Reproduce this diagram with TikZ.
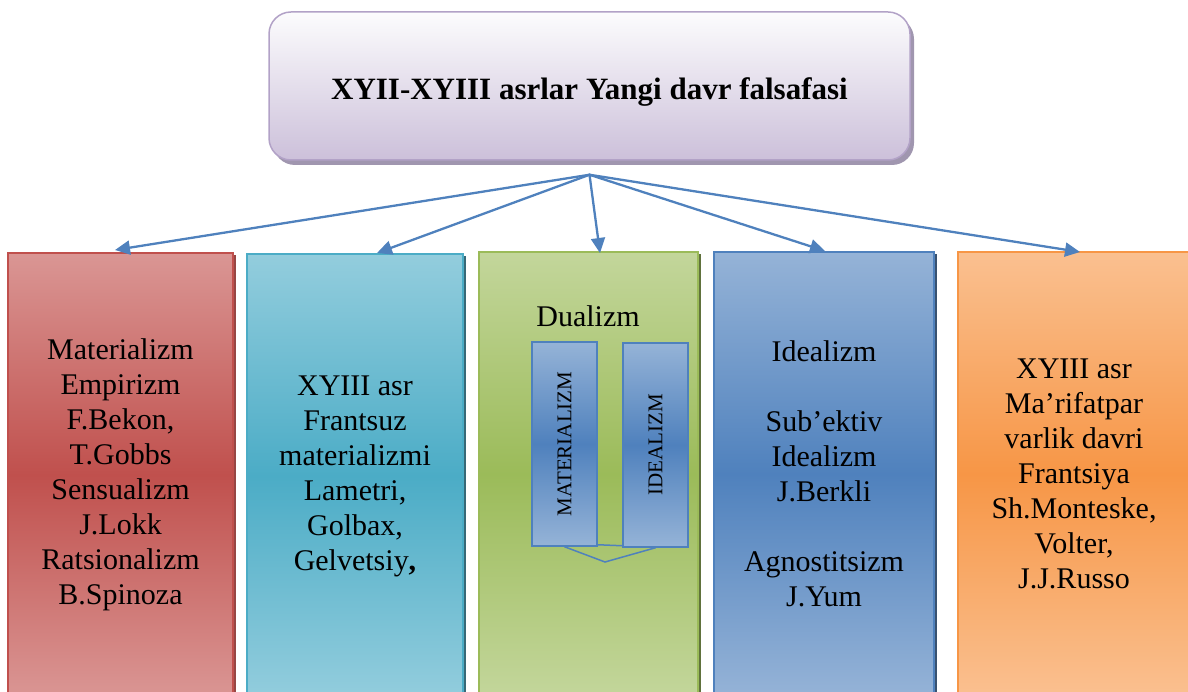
\documentclass[tikz,border=0pt]{standalone}
\usepackage{fontspec,graphicx}
\setmainfont{Liberation Serif}
\usetikzlibrary{arrows.meta, calc, positioning, shadows}
\definecolor{color1}{RGB}{192,80,77}
\definecolor{color1l}{RGB}{218,150,148}
\definecolor{color1d}{RGB}{140,50,48}
\definecolor{color2}{RGB}{75,172,198}
\definecolor{color2l}{RGB}{147,205,221}
\definecolor{color2d}{RGB}{33,89,104}
\definecolor{color3}{RGB}{155,187,89}
\definecolor{color3l}{RGB}{195,214,155}
\definecolor{color3d}{RGB}{79,98,40}
\definecolor{color4}{RGB}{79,129,189}
\definecolor{color4l}{RGB}{149,179,215}
\definecolor{color4d}{RGB}{36,63,96}
\definecolor{color5}{RGB}{247,150,70}
\definecolor{color5l}{RGB}{250,192,144}
\definecolor{color5d}{RGB}{190,100,35}
\definecolor{color6}{RGB}{204,192,218}
\definecolor{color6l}{RGB}{252,252,253}
\definecolor{color6d}{RGB}{178,162,199}
\definecolor{color6s}{RGB}{160,150,175}

\begin{document}
\begin{tikzpicture}[line cap=round, x=1pt, y=-1pt,
    colbox/.style={draw=#1, line width=2pt, minimum height=444pt, align=center, top color=#1l, bottom color=#1l, middle color=#1, drop shadow={shadow xshift=3pt, shadow yshift=-2pt, fill=#1d, opacity=0.9}, font=\fontsize{30}{35}\selectfont},
    topbox/.style={draw=color6d, line width=1.5pt, rounded corners=22pt, minimum width=641pt, minimum height=148pt, text height=27pt, text depth=0pt, top color=color6l, bottom color=color6, drop shadow={shadow xshift=4pt, shadow yshift=-5pt, fill=color6s, opacity=1}, font=\bfseries\fontsize{31}{35}\selectfont},
    inbox/.style={draw=color4, line width=1.5pt, minimum width=65pt, minimum height=204pt, inner sep=0pt, top color=color4l, bottom color=color4l, middle color=color4, font=\fontsize{21}{25}\selectfont},
    arr/.style={draw=color4, line width=2.3pt, -{Triangle[length=15pt, width=14pt]}},
    inline/.style={draw=color4, line width=1.5pt}]
                \useasboundingbox (0,0) rectangle (1188,692);

                \node[topbox] (top) at (589.5,86) {XYII-XYIII asrlar Yangi davr falsafasi};

                \node[colbox=color1, minimum width=225pt] (c1) at (120.5,475) {Materializm\\Empirizm\\F.Bekon,\\T.Gobbs\\Sensualizm\\J.Lokk\\Ratsionalizm\\B.Spinoza};
                \node[colbox=color2, minimum width=216pt] (c2) at (355,476) {XYIII asr\\Frantsuz\\materializmi\\Lametri,\\Golbax,\\Gelvetsiy\textbf{,}};
                \node[colbox=color3, minimum width=219pt] (c3) at (588.5,474) {};
                \node[colbox=color4, minimum width=220pt] (c4) at (824,474) {Idealizm\\[35pt]Sub’ektiv\\Idealizm\\J.Berkli\\[35pt]Agnostitsizm\\J.Yum};
                \node[colbox=color5, minimum width=232pt] (c5) at (1074,474) {XYIII asr\\Ma’rifatpar\\varlik davri\\Frantsiya\\Sh.Monteske,\\Volter,\\J.J.Russo};

                % dualizm
                \node[font=\fontsize{30}{35}\selectfont] (dual) at (588,316) {Dualizm};
                \node[inbox] (mat) at (564.5,444) {\rotatebox{90}{MATERIALIZM}};
                \node[inbox] (ide) at (655.5,445) {\rotatebox{90}{IDEALIZM}};
                \coordinate (v) at (605,562);
                \draw[inline] ([yshift=2pt]mat.south east) -- ([yshift=2pt]ide.south west);
                \draw[inline] (mat.south) -- (v) -- (ide.south);

                % arrows
                \coordinate (src) at ([yshift=-14pt]top.south);
                \coordinate (t1) at (115,250); \coordinate (t2) at (377,253); \coordinate (t3) at (600,253); \coordinate (t4) at (825,251); \coordinate (t5) at (1080,252);
                \foreach \t in {t1,t2,t3,t4,t5} \draw[arr] (src) -- (\t);
            \end{tikzpicture}
\end{document}
